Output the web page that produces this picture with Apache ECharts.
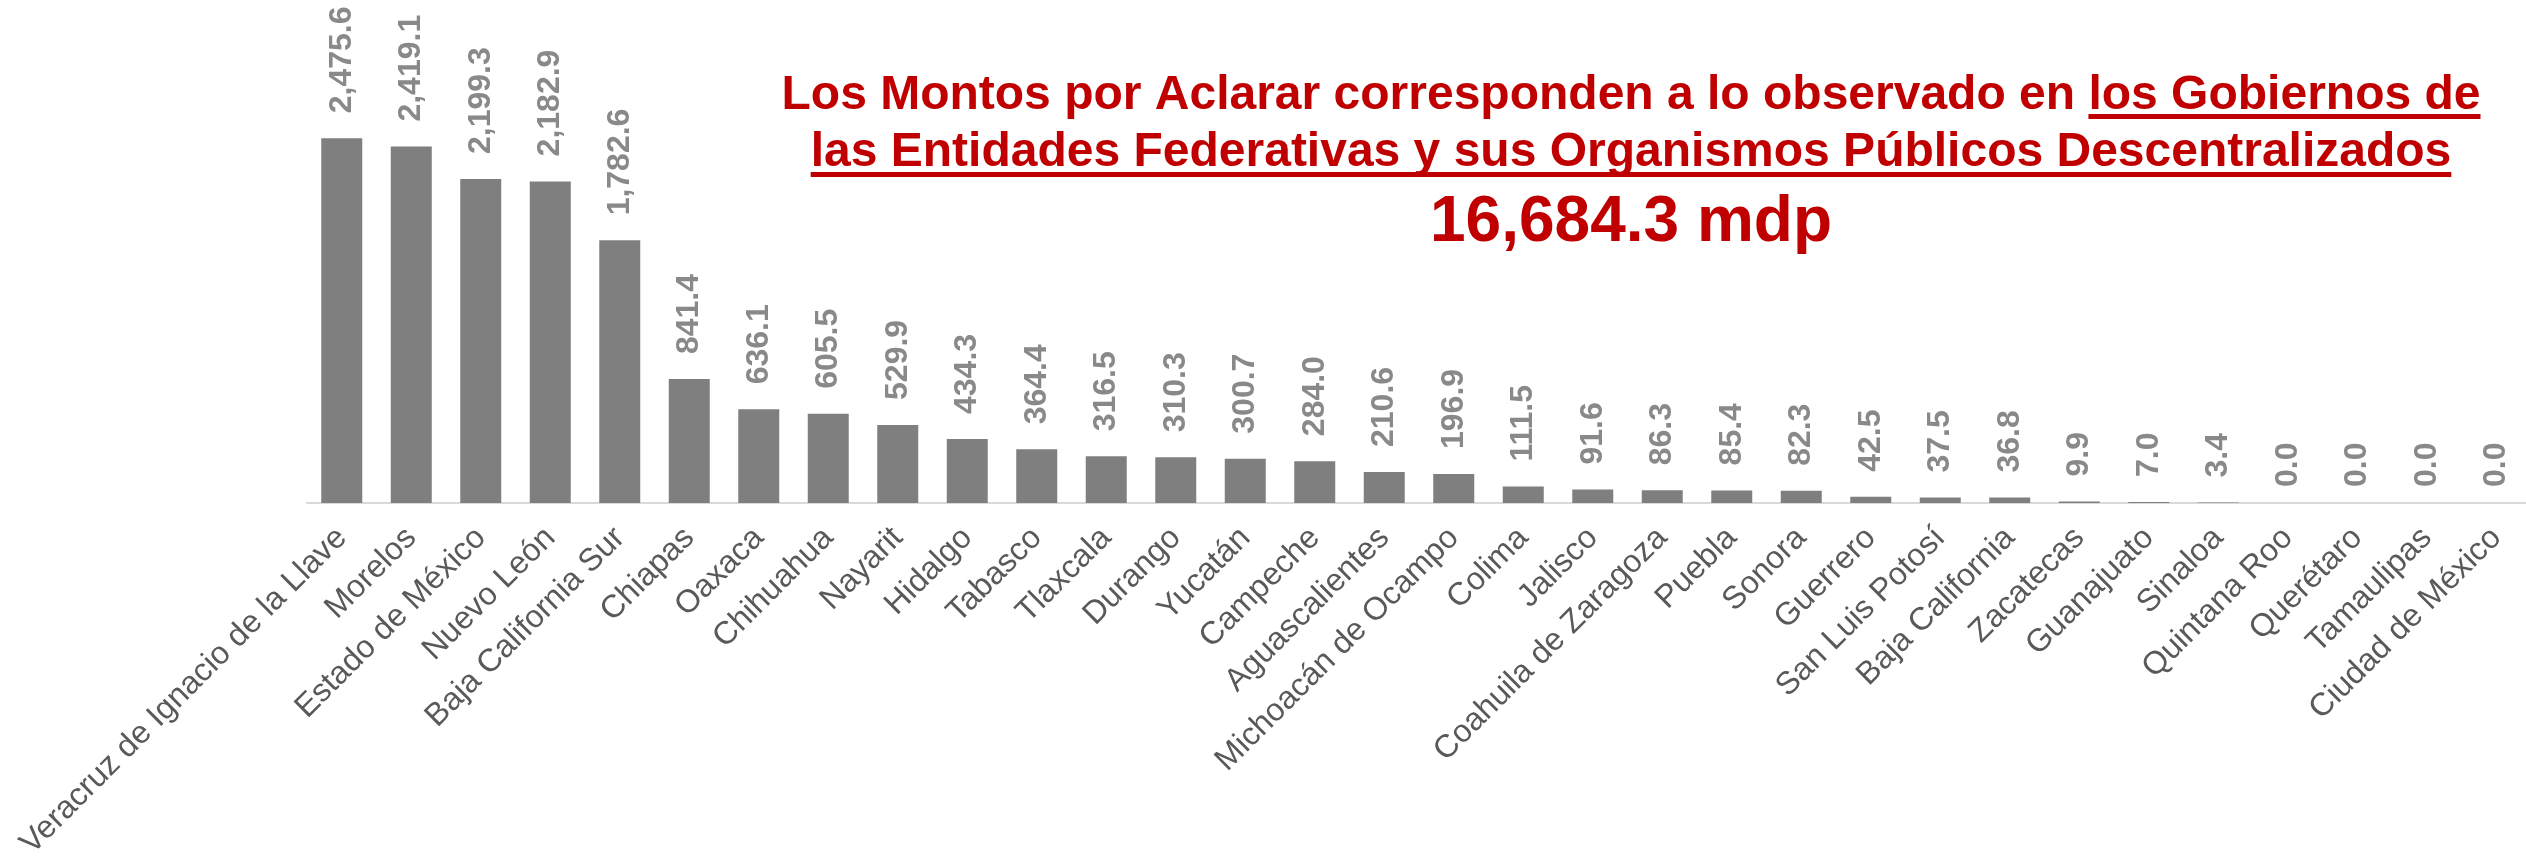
<!DOCTYPE html>
<html>
<head>
<meta charset="utf-8">
<script src="https://cdn.jsdelivr.net/npm/echarts@6/dist/echarts.min.js"></script>
<style>
html,body{margin:0;padding:0;background:#fff;}
#c{width:2526px;height:858px;}
</style>
</head>
<body>
<div id="c"></div>
<script>
const categories = ["Veracruz de Ignacio de la Llave","Morelos","Estado de México","Nuevo León","Baja California Sur","Chiapas","Oaxaca","Chihuahua","Nayarit","Hidalgo","Tabasco","Tlaxcala","Durango","Yucatán","Campeche","Aguascalientes","Michoacán de Ocampo","Colima","Jalisco","Coahuila de Zaragoza","Puebla","Sonora","Guerrero","San Luis Potosí","Baja California","Zacatecas","Guanajuato","Sinaloa","Quintana Roo","Querétaro","Tamaulipas","Ciudad de México"];
const values = [2475.6,2419.1,2199.3,2182.9,1782.6,841.4,636.1,605.5,529.9,434.3,364.4,316.5,310.3,300.7,284.0,210.6,196.9,111.5,91.6,86.3,85.4,82.3,42.5,37.5,36.8,9.9,7.0,3.4,0.0,0.0,0.0,0.0];
const titleLine1a = "Los Montos por Aclarar corresponden a lo observado en ";
const titleLine1b = "los Gobiernos de";
const titleLine2 = "las Entidades Federativas y sus Organismos Públicos Descentralizados";
const titleLine3 = "16,684.3 mdp";

const FONT = '"Liberation Sans", Arial, sans-serif';
const RED = '#C00000';

const cv = document.createElement('canvas').getContext('2d');
function tw(t, size){ cv.font = 'bold ' + size + 'px ' + FONT; return cv.measureText(t).width; }

const cx = 1631;
const w1a = tw(titleLine1a, 48), w1b = tw(titleLine1b, 48);
const x1 = cx - (w1a + w1b)/2;
const w2 = tw(titleLine2, 48);
const x2 = cx - w2/2;

const chart = echarts.init(document.getElementById('c'), null, {renderer:'canvas'});

const fmt = v => v.toLocaleString('en-US',{minimumFractionDigits:1,maximumFractionDigits:1});

chart.setOption({
  animation:false,
  backgroundColor:'#ffffff',
  grid:{left:307, right:-5, top:61, bottom:355, containLabel:false, outerBoundsMode:'none'},
  xAxis:{
    type:'category', data:categories,
    axisLine:{show:true, lineStyle:{color:'#d9d9d9', width:2}},
    axisTick:{show:false},
    axisLabel:{interval:0, rotate:45, margin:30, fontSize:32, color:'#595959', fontFamily:FONT}
  },
  yAxis:{type:'value', min:0, max:3000, show:false, splitLine:{show:false}},
  series:[{
    type:'bar',
    barWidth:41,
    itemStyle:{color:'#7f7f7f'},
    data: values.map(v => v === 0 ? {value:v, label:{distance:16}} : v),
    label:{
      show:true, position:'top', rotate:90, align:'left', verticalAlign:'middle',
      distance:25, fontSize:32, fontWeight:'bold', color:'#898989', fontFamily:FONT,
      formatter: p => fmt(p.value)
    }
  }],
  graphic:[
    {type:'text', x:x1, y:96, style:{text:titleLine1a, font:'bold 48px '+FONT, fill:RED, textAlign:'left', textVerticalAlign:'middle'}},
    {type:'text', x:x1+w1a, y:96, style:{text:titleLine1b, font:'bold 48px '+FONT, fill:RED, textAlign:'left', textVerticalAlign:'middle'}},
    {type:'rect', shape:{x:x1+w1a, y:114, width:w1b, height:5}, style:{fill:RED}},
    {type:'text', x:x2, y:153, style:{text:titleLine2, font:'bold 48px '+FONT, fill:RED, textAlign:'left', textVerticalAlign:'middle'}},
    {type:'rect', shape:{x:x2, y:172, width:w2, height:5}, style:{fill:RED}},
    {type:'text', x:cx, y:223, style:{text:titleLine3, font:'bold 64px '+FONT, fill:RED, textAlign:'center', textVerticalAlign:'middle'}}
  ]
});
</script>
</body>
</html>
